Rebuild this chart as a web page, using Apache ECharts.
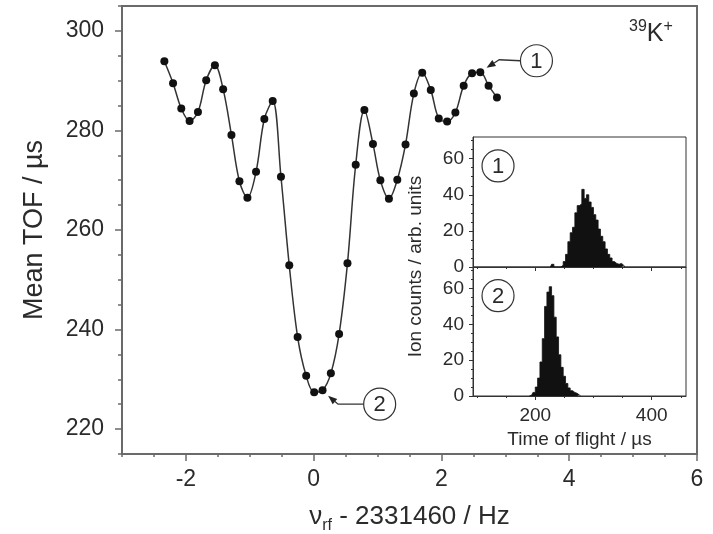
<!DOCTYPE html>
<html>
<head>
<meta charset="utf-8">
<script src="https://cdn.jsdelivr.net/npm/echarts@6/dist/echarts.min.js"></script>
<style>
  html, body { margin: 0; padding: 0; background: #fff; }
  #chart { width: 713px; height: 534px; }
</style>
</head>
<body>
<div id="chart"></div>
<script>
// Resonance scan: rf frequency offset (Hz) vs. mean time of flight (µs)
const freqOffset = [
  -2.337, -2.201, -2.072, -1.942, -1.811, -1.682, -1.546, -1.417, -1.287, -1.162,
  -1.037, -0.902, -0.772, -0.641, -0.512, -0.382, -0.251, -0.117, 0.008, 0.139,
  0.269, 0.398, 0.529, 0.658, 0.794, 0.928, 1.044, 1.178, 1.309, 1.438,
  1.568, 1.699, 1.833, 1.958, 2.089, 2.218, 2.348, 2.479, 2.608, 2.738, 2.869
];
const meanTof = [
  293.9, 289.5, 284.4, 281.9, 283.7, 290.1, 293.1, 288.3, 279.1, 269.8,
  266.5, 271.7, 282.3, 285.9, 270.7, 252.9, 238.5, 230.7, 227.4, 227.8,
  231.2, 239.1, 253.3, 273.1, 284.1, 277.3, 270.0, 266.3, 270.1, 277.2,
  287.4, 291.6, 288.1, 282.4, 281.8, 283.6, 289.0, 291.5, 291.7, 289.0, 286.6
];

// TOF spectrum (1): off resonance
const tofBins1 = [
  226, 230, 234, 238, 242, 246, 250, 254, 258, 262, 266, 270, 274, 278, 282, 286,
  290, 294, 298, 302, 306, 310, 314, 318, 322, 326, 330, 334, 338, 342, 346, 350, 354
];
const tofCounts1 = [
  0, 1.5, 0, 0, 0, 1, 3, 7, 14, 19, 22, 30, 34, 35, 43, 38,
  40, 36, 33, 29, 26, 21, 17, 14, 10, 7, 5, 3, 2, 1.5, 2, 1, 0
];

// TOF spectrum (2): on resonance
const tofBins2 = [
  190, 194, 198, 202, 206, 210, 214, 218, 222, 226, 230, 234, 238, 242, 246,
  250, 254, 258, 262, 266, 270, 274, 278
];
const tofCounts2 = [
  0, 0.5, 2, 5, 10, 19, 32, 50, 58, 61, 56, 44, 33, 23, 16,
  11, 7, 4.5, 3, 2, 1.5, 0.5, 0
];

// Tick values
const mainXLabels = [-2, 0, 2, 4, 6];
const mainYLabels = [220, 240, 260, 280, 300];
const insetXLabels = [200, 400];
const insetXMinor = [100, 150, 250, 300, 350, 450];
const insetYLabels = [0, 20, 40, 60];
const insetYMinor = [5, 10, 15, 25, 30, 35, 45, 50, 55, 65, 70];

const FONT = 'Liberation Sans, Arial, sans-serif';
const TEXT = '#2b2b2b';
const AXIS = '#6a6a6a';

const chart = echarts.init(document.getElementById('chart'));

const mainPairs = freqOffset.map((f, i) => [f, meanTof[i]]);
const hist1 = tofBins1.map((b, i) => [b, tofCounts1[i]]);
const hist2 = tofBins2.map((b, i) => [b, tofCounts2[i]]);

function insetX(gridIndex, withLabels) {
  return [
    {
      type: 'value', gridIndex, min: 93, max: 459, position: 'bottom',
      axisLine: { show: true, onZero: false, lineStyle: { color: '#333', width: 1 } },
      axisTick: { show: true, customValues: insetXMinor, length: 2, lineStyle: { color: '#333' } },
      axisLabel: { show: false }, splitLine: { show: false }
    },
    {
      type: 'value', gridIndex, min: 93, max: 459, position: 'bottom',
      axisLine: { show: false, onZero: false },
      axisTick: { show: true, customValues: insetXLabels, length: 4, lineStyle: { color: '#333' } },
      axisLabel: {
        show: withLabels, customValues: insetXLabels, fontSize: 19, color: TEXT,
        fontFamily: FONT, margin: 10
      },
      name: withLabels ? 'Time of flight / µs' : '',
      nameLocation: 'middle', nameGap: 34,
      nameTextStyle: { fontSize: 19, color: TEXT, fontFamily: FONT },
      splitLine: { show: false }
    }
  ];
}

function insetY(gridIndex) {
  return [
    {
      type: 'value', gridIndex, min: 0, max: 72, position: 'left',
      axisLine: { show: true, onZero: false, lineStyle: { color: '#333', width: 1 } },
      axisTick: { show: true, customValues: insetYMinor, length: 2, lineStyle: { color: '#333' } },
      axisLabel: { show: false }, splitLine: { show: false }
    },
    {
      type: 'value', gridIndex, min: 0, max: 72, position: 'left',
      axisLine: { show: false, onZero: false },
      axisTick: { show: true, customValues: insetYLabels, length: 4, lineStyle: { color: '#333' } },
      axisLabel: {
        customValues: insetYLabels, fontSize: 19, color: TEXT, fontFamily: FONT, margin: 9
      },
      splitLine: { show: false }
    }
  ];
}

const option = {
  animation: false,
  backgroundColor: '#fff',
  grid: [
    { left: 122, top: 6, width: 575, height: 448, show: true, borderColor: AXIS, borderWidth: 2, outerBoundsMode: 'none' },
    { left: 473, top: 137, width: 213, height: 130, show: true, borderColor: '#333', borderWidth: 1, outerBoundsMode: 'none' },
    { left: 473, top: 267, width: 213, height: 129, show: true, borderColor: '#333', borderWidth: 1, outerBoundsMode: 'none' }
  ],
  xAxis: [
    {
      type: 'value', gridIndex: 0, min: -3, max: 6, interval: 0.5, position: 'bottom',
      axisLine: { show: true, onZero: false, lineStyle: { color: AXIS, width: 2 } },
      axisTick: { show: true, length: 3, lineStyle: { color: AXIS, width: 1.5 } },
      axisLabel: { show: false }, splitLine: { show: false }
    },
    {
      type: 'value', gridIndex: 0, min: -3, max: 6, position: 'bottom',
      axisLine: { show: false, onZero: false },
      axisTick: { show: true, customValues: mainXLabels, length: 7, lineStyle: { color: AXIS, width: 1.5 } },
      axisLabel: {
        customValues: mainXLabels, fontSize: 23, color: TEXT, fontFamily: FONT, margin: 14
      },
      name: '{a|ν}{s|rf}{a| - 2331460 / Hz}',
      nameLocation: 'middle', nameGap: 50,
      nameTextStyle: {
        color: TEXT, fontFamily: FONT,
        rich: {
          a: { fontSize: 26, color: TEXT, fontFamily: FONT, lineHeight: 30, verticalAlign: 'top' },
          s: { fontSize: 16, color: TEXT, fontFamily: FONT, lineHeight: 16, verticalAlign: 'bottom' }
        }
      },
      splitLine: { show: false }
    },
    ...insetX(1, false),
    ...insetX(2, true)
  ],
  yAxis: [
    {
      type: 'value', gridIndex: 0, min: 215, max: 305, interval: 5, position: 'left',
      axisLine: { show: true, onZero: false, lineStyle: { color: AXIS, width: 2 } },
      axisTick: { show: true, length: 4, lineStyle: { color: AXIS, width: 1.5 } },
      axisLabel: { show: false }, splitLine: { show: false }
    },
    {
      type: 'value', gridIndex: 0, min: 215, max: 305, position: 'left',
      axisLine: { show: false, onZero: false },
      axisTick: { show: true, customValues: mainYLabels, length: 7, lineStyle: { color: AXIS, width: 1.5 } },
      axisLabel: {
        customValues: mainYLabels, fontSize: 23, color: TEXT, fontFamily: FONT, margin: 18
      },
      name: 'Mean TOF / µs', nameLocation: 'middle', nameGap: 74,
      nameTextStyle: { fontSize: 27, color: TEXT, fontFamily: FONT },
      splitLine: { show: false }
    },
    ...insetY(1),
    ...insetY(2)
  ],
  series: [
    {
      type: 'line', xAxisIndex: 0, yAxisIndex: 0, data: mainPairs,
      smooth: 0.35, symbol: 'circle', symbolSize: 8,
      itemStyle: { color: '#111' },
      lineStyle: { color: '#333', width: 1.5 }, z: 5
    },
    {
      type: 'line', xAxisIndex: 2, yAxisIndex: 2, data: hist1, step: 'middle',
      symbol: 'none', lineStyle: { color: '#111', width: 0.8 },
      areaStyle: { color: '#111', opacity: 1 }
    },
    {
      type: 'line', xAxisIndex: 4, yAxisIndex: 4, data: hist2, step: 'middle',
      symbol: 'none', lineStyle: { color: '#111', width: 0.8 },
      areaStyle: { color: '#111', opacity: 1 }
    }
  ]
};

chart.setOption(option);

// Circled labels and arrows
function circled(cx, cy, r, label, size) {
  return [
    { type: 'circle', shape: { cx, cy, r }, style: { fill: '#fff', stroke: '#333', lineWidth: 1.2 }, z: 20 },
    {
      type: 'text', x: cx, y: cy + 1, z: 21,
      style: { text: label, fill: TEXT, font: size + 'px ' + FONT, align: 'center', verticalAlign: 'middle' }
    }
  ];
}

function arrow(points) {
  const tip = points[points.length - 1];
  const prev = points[points.length - 2];
  const ang = Math.atan2(tip[1] - prev[1], tip[0] - prev[0]);
  const len = 9, half = 3.5;
  const bx = tip[0] - len * Math.cos(ang), by = tip[1] - len * Math.sin(ang);
  const nx = -Math.sin(ang) * half, ny = Math.cos(ang) * half;
  return [
    { type: 'polyline', shape: { points: points.slice(0, -1).concat([[bx, by]]) },
      style: { stroke: '#333', lineWidth: 1.3, fill: null }, z: 20 },
    { type: 'polygon', shape: { points: [tip, [bx + nx, by + ny], [bx - nx, by - ny]] },
      style: { fill: '#222' }, z: 20 }
  ];
}

const px = (v) => chart.convertToPixel({ xAxisIndex: 0, yAxisIndex: 0 }, v);
const ipx1 = (v) => chart.convertToPixel({ xAxisIndex: 2, yAxisIndex: 2 }, v);
const ipx2 = (v) => chart.convertToPixel({ xAxisIndex: 4, yAxisIndex: 4 }, v);

const c1 = px([3.487, 294.0]);
const c2 = px([1.033, 225.0]);
const r = 16;
const graphics = [
  ...arrow([[c1[0] - r, c1[1]], px([2.905, 294.2]), px([2.706, 292.6])]),
  ...circled(c1[0], c1[1], r, '1', 22),
  ...arrow([[c2[0] - r, c2[1]], px([0.382, 225.0]), px([0.226, 226.7])]),
  ...circled(c2[0], c2[1], r, '2', 22)
];
const i1 = ipx1([136, 56]);
const i2 = ipx2([136, 56]);
graphics.push(...circled(i1[0], i1[1], r, '1', 22));
graphics.push(...circled(i2[0], i2[1], r, '2', 22));

// Shared vertical title of the two spectra
const insetTop = ipx1([93, 72]);
const insetBottom = ipx2([93, 0]);
graphics.push({
  type: 'text', x: insetTop[0] - 57, y: (insetTop[1] + insetBottom[1]) / 2, rotation: Math.PI / 2, z: 21,
  style: {
    text: 'Ion counts / arb. units', fill: TEXT, font: '19px ' + FONT,
    align: 'center', verticalAlign: 'middle'
  }
});

// Ion species label
graphics.push({
  type: 'text', x: 629, y: 19, z: 21,
  style: {
    text: '{s|39}{k|K}{s|+}',
    rich: {
      s: { fontSize: 16, fontFamily: FONT, fill: TEXT, lineHeight: 22, verticalAlign: 'top' },
      k: { fontSize: 25, fontFamily: FONT, fill: TEXT, lineHeight: 28, verticalAlign: 'bottom' }
    }
  }
});

chart.setOption({ graphic: graphics });
</script>
</body>
</html>
